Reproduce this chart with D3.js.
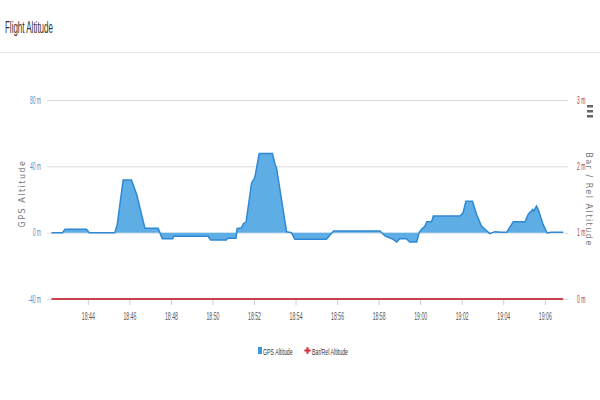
<!DOCTYPE html>
<html>
<head>
<meta charset="utf-8">
<script src="https://cdn.jsdelivr.net/npm/d3@7"></script>
<style>
  body { margin: 0; background: #fff; }
  svg { display: block; font-family: "Liberation Sans", Arial, sans-serif; }
  .grid line { stroke: #dcdcdc; stroke-width: 1; }
  .y-left text { fill: #4a8fc9; font-size: 10px; }
  .y-right text { fill: #b3363c; font-size: 10px; }
  .x-axis text { fill: #555; font-size: 10px; }
  .x-axis line { stroke: #ccc; }
  .axis-title { fill: #777; font-size: 8px; letter-spacing: 1.5px; font-family: "DejaVu Sans", sans-serif; }
</style>
</head>
<body>
<svg id="chart" width="600" height="400"></svg>
<script>
// GPS altitude samples (time, metres)
const gpsTimes = [
  '18:42:15','18:42:47','18:42:54','18:43:56','18:44:04','18:45:18','18:45:25','18:45:42',
  '18:46:06','18:46:21','18:46:45','18:47:23','18:47:35','18:48:05','18:48:08','18:49:47',
  '18:49:55','18:50:40','18:50:44','18:51:08','18:51:11','18:51:24','18:51:29','18:51:37',
  '18:51:53','18:52:02','18:52:15','18:52:53','18:53:01','18:53:05','18:53:34','18:53:48',
  '18:53:58','18:55:29','18:55:50','18:58:04','18:58:18','18:58:42','18:58:52','18:59:01',
  '18:59:20','18:59:30','18:59:50','18:59:57','19:00:04','19:00:14','19:00:19','19:00:33',
  '19:00:38','19:01:55','19:02:04','19:02:12','19:02:31','19:02:43','19:02:57','19:03:21',
  '19:03:36','19:03:55','19:04:10','19:04:19','19:04:29','19:05:03','19:05:12','19:05:25',
  '19:05:28','19:05:36','19:05:41','19:05:55','19:06:07','19:06:19','19:06:53'
];
const gpsValues = [
  0, 0, 2, 2, 0, 0, 5, 31.7,
  31.7, 23, 2.6, 2.6, -3.6, -3.6, -2.2, -2.2,
  -4.4, -4.4, -3.4, -3.4, 2.4, 3, 5.4, 6.4,
  30, 33, 47.7, 47.7, 41, 39, 0.6, 0,
  -4, -4, 1, 1, -2, -4, -5.6, -3.6,
  -3.6, -5.6, -5.6, 0, 2, 4, 6.6, 6.6,
  10, 10, 12, 19, 19, 11, 4, -0.6,
  0.6, 0.2, 0.2, 3.4, 6.6, 6.6, 11, 14,
  13, 16, 14, 5, -0.2, 0.2, 0.2
];

// Bar / Rel altitude samples (time, metres)
const barTimes = ['18:42:15', '18:50:00', '19:00:00', '19:06:53'];
const barValues = [0, 0, 0, 0];

const xDomain = ['18:42:02', '19:07:07'];
const leftTicks = [-40, 0, 40, 80];
const rightTicks = [0, 1, 2, 3];

const parseTime = d3.timeParse('%H:%M:%S');
const gpsData = gpsTimes.map((t, i) => ({ t: parseTime(t), v: gpsValues[i] }));
const barData = barTimes.map((t, i) => ({ t: parseTime(t), v: barValues[i] }));

// the reference uses a narrow face: squeeze tick text sideways
const squeeze = (sel, k) => sel.each(function() {
  const t = d3.select(this);
  const x = +t.attr('x') || 0;
  t.attr('x', x / k).attr('transform', `scale(${k},1)`);
});

const svg = d3.select('#chart');
const margin = { top: 100, right: 32, bottom: 101, left: 47 };
const width = +svg.attr('width');
const height = +svg.attr('height');
const innerWidth = width - margin.left - margin.right;
const innerHeight = height - margin.top - margin.bottom;

// title + separator
svg.append('text')
    .attr('transform', 'translate(5,33) scale(0.47,1)')
    .attr('fill', '#333')
    .attr('font-size', 17)
    .text('Flight Altitude');
svg.append('line')
    .attr('x1', 0).attr('x2', width)
    .attr('y1', 52.5).attr('y2', 52.5)
    .attr('stroke', '#e6e6e6');

const g = svg.append('g')
    .attr('transform', `translate(${margin.left},${margin.top})`);

const xScale = d3.scaleTime()
    .domain(xDomain.map(parseTime))
    .range([0, innerWidth]);

const yLeft = d3.scaleLinear()
    .domain([-40, 80])
    .range([innerHeight, 0]);

const yRight = d3.scaleLinear()
    .domain([0, 3])
    .range([innerHeight, 0]);

// gridlines
g.append('g')
    .attr('class', 'grid')
    .call(d3.axisLeft(yLeft).tickValues(leftTicks).tickSize(-innerWidth).tickFormat(''))
    .call(s => s.select('.domain').remove());

// left axis labels
g.append('g')
    .attr('class', 'y-left')
    .call(d3.axisLeft(yLeft).tickValues(leftTicks).tickSize(0).tickPadding(6).tickFormat(d => d + ' m'))
    .call(s => s.select('.domain').remove())
    .selectAll('text').call(squeeze, 0.5);

// right axis labels
g.append('g')
    .attr('class', 'y-right')
    .attr('transform', `translate(${innerWidth},0)`)
    .call(d3.axisRight(yRight).tickValues(rightTicks).tickSize(0).tickPadding(9).tickFormat(d => d + ' m'))
    .call(s => s.select('.domain').remove())
    .selectAll('text').call(squeeze, 0.5);

// x axis
g.append('g')
    .attr('class', 'x-axis')
    .attr('transform', `translate(0,${innerHeight})`)
    .call(d3.axisBottom(xScale)
      .ticks(d3.timeMinute.every(2))
      .tickFormat(d3.timeFormat('%H:%M'))
      .tickSize(6)
      .tickPadding(8))
    .call(s => s.select('.domain').remove())
    .selectAll('text').call(squeeze, 0.52);

// axis titles
svg.append('text')
    .attr('class', 'axis-title')
    .attr('transform', `translate(25,${margin.top + innerHeight / 2 - 6}) rotate(-90)`)
    .attr('text-anchor', 'middle')
    .text('GPS Altitude');
svg.append('text')
    .attr('class', 'axis-title')
    .attr('transform', `translate(586,${margin.top + innerHeight / 2}) rotate(90)`)
    .attr('text-anchor', 'middle')
    .text('Bar / Rel Altitude');

// GPS area (threshold at 0 m)
const area = d3.area()
    .x(d => xScale(d.t))
    .y0(yLeft(0))
    .y1(d => yLeft(d.v));
const line = d3.line()
    .x(d => xScale(d.t))
    .y(d => yLeft(d.v));

g.append('path')
    .datum(gpsData)
    .attr('d', area)
    .attr('fill', '#5eaee5');
g.append('path')
    .datum(gpsData)
    .attr('d', line)
    .attr('fill', 'none')
    .attr('stroke', '#2f88d4')
    .attr('stroke-width', 1.5);

// Bar/Rel line
g.append('path')
    .datum(barData)
    .attr('d', d3.line().x(d => xScale(d.t)).y(d => yRight(d.v)))
    .attr('fill', 'none')
    .attr('stroke', '#c8424e')
    .attr('stroke-width', 2);

// menu icon
const menu = svg.append('g').attr('transform', 'translate(587,105)');
[0, 5, 10].forEach(dy => menu.append('rect')
    .attr('x', 0).attr('y', dy).attr('width', 6).attr('height', 2.5).attr('fill', '#666'));

// legend
const legend = svg.append('g').attr('transform', 'translate(258,347)');
legend.append('rect')
    .attr('width', 4).attr('height', 7).attr('fill', '#3d95dc');
legend.append('text')
    .attr('transform', 'translate(5,7.5) scale(0.55,1)')
    .attr('font-size', 9.5).attr('fill', '#333')
    .text('GPS Altitude');
legend.append('path')
    .attr('d', d3.symbol(d3.symbolCross, 22)())
    .attr('transform', 'translate(49.5,3.5)')
    .attr('fill', '#d5303c');
legend.append('text')
    .attr('transform', 'translate(54,7.5) scale(0.55,1)')
    .attr('font-size', 9.5).attr('fill', '#333')
    .text('Bar/Rel Altitude');
</script>
</body>
</html>
